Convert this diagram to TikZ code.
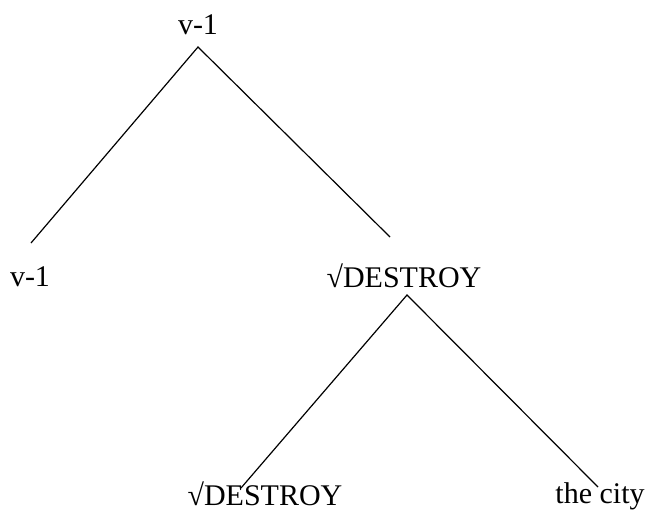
\documentclass[tikz,border=0pt]{standalone}
\usepackage{fontspec}
\setmainfont{Liberation Serif}
\usetikzlibrary{positioning}

\tikzset{
    word/.style={anchor=base, inner sep=0pt, font=\fontsize{22.5}{27}\selectfont},
    branch/.style={draw, line width=0.9pt},
}

\begin{document}
\begin{tikzpicture}[x=0.75pt, y=-0.75pt]
    \useasboundingbox (0,0) rectangle (647,514);

    % labels
    \node [word] (v_top) at (198,35) {v-1};
    \node [word] (v_low) at (30,286) {v-1};
    \node [word] (root_phrase) at (404,287) {\textsurd DESTROY};
    \node [word] (root_head) at (265,505) {\textsurd DESTROY};
    \node [word] (obj) at (600,503) {the city};

    % branch ends
    \coordinate (v_top_foot) at (198,47);
    \coordinate (v_low_head) at (31,243);
    \coordinate (root_phrase_head) at (390,237);
    \coordinate (root_phrase_foot) at (407,295);
    \coordinate (root_head_head) at (241,488);
    \coordinate (obj_head) at (598,487);

    \draw [branch] (v_low_head) -- (v_top_foot) -- (root_phrase_head);
    \draw [branch] (root_head_head) -- (root_phrase_foot) -- (obj_head);
\end{tikzpicture}
\end{document}
